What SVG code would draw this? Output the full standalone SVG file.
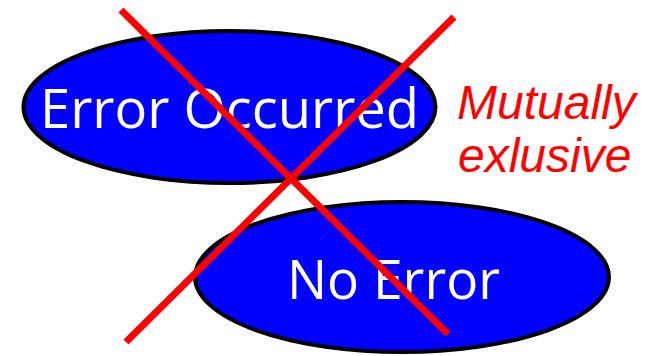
<svg xmlns="http://www.w3.org/2000/svg" width="650" height="356" viewBox="0 0 650 356">
<style>
.node ellipse{fill:#0000FF;stroke:#000;stroke-width:4}
.node text{fill:#fff;font-family:"Open Sans","Noto Sans",sans-serif;font-size:55px}
.cross line{stroke:#FF0000;stroke-width:7}
.note{fill:#FF0000;font-family:"Liberation Sans",Arial,sans-serif;font-style:italic;font-size:48px}
</style>
<rect width="650" height="356" fill="#fff"/>
<g id="error-occurred" class="node">
<ellipse cx="229.5" cy="107" rx="206" ry="76"/>
<text x="40" y="128" textLength="379" lengthAdjust="spacingAndGlyphs">Error Occurred</text>
</g>
<g id="no-error" class="node">
<ellipse cx="402" cy="277" rx="207" ry="75"/>
<text x="287" y="299" textLength="213" lengthAdjust="spacingAndGlyphs">No Error</text>
</g>
<g id="connectors" class="cross">
<line x1="121" y1="10" x2="448" y2="334"/>
<line x1="454" y1="17" x2="126" y2="342"/>
</g>
<g id="label">
<text class="note" x="457" y="119">Mutually</text>
<text class="note" x="458" y="172">exlusive</text>
</g>
</svg>
